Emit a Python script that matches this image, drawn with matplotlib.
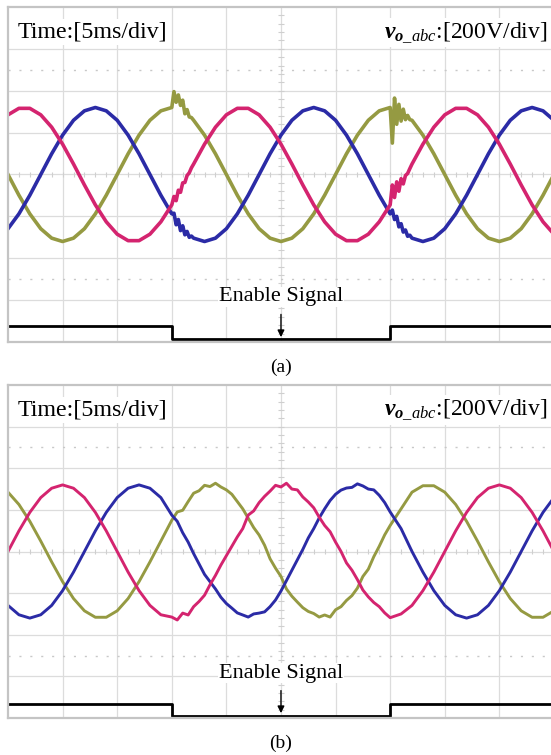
import numpy as np
import matplotlib
matplotlib.use('Agg')
import matplotlib.pyplot as plt

plt.rcParams['font.family'] = 'Liberation Serif'
plt.rcParams['mathtext.fontset'] = 'custom'
plt.rcParams['mathtext.rm'] = 'Liberation Serif'
plt.rcParams['mathtext.it'] = 'Liberation Serif:italic'
plt.rcParams['mathtext.bf'] = 'Liberation Serif:bold:italic'

# (a): time in ms, phase voltages in V, denser samples around the two switching events
t_a = [0, 1, 2, 3, 4, 5, 6, 7, 8, 9, 10, 11, 12, 13, 14,
       15.0, 15.2, 15.4, 15.6, 15.8, 16.0, 16.2, 16.4, 16.6, 16.8, 17.0,
       18, 19, 20, 21, 22, 23, 24, 25, 26, 27, 28, 29, 30, 31, 32, 33, 34,
       35.0, 35.2, 35.4, 35.6, 35.8, 36.0, 36.2, 36.4, 36.6, 36.8, 37.0,
       38, 39, 40, 41, 42, 43, 44, 45, 46, 47, 48, 49, 50]
va_a = [285, 316, 316, 285, 226, 145, 50, -50, -145, -226, -285, -316, -316, -285, -226,
        -145, -105, -125, -75, -85, -40, -38, -5, 8, 32, 50,
        145, 226, 285, 316, 316, 285, 226, 145, 50, -50, -145, -226, -285, -316, -316, -285, -226,
        -145, -50, -110, -35, -80, -20, -45, -5, 5, 28, 50,
        145, 226, 285, 316, 316, 285, 226, 145, 50, -50, -145, -226, -285]
vb_a = [-259, -188, -99, 0, 99, 188, 259, 304, 320, 304, 259, 188, 99, 0, -99,
        -188, -185, -240, -215, -268, -245, -288, -272, -300, -294, -304,
        -320, -304, -259, -188, -99, 0, 99, 188, 259, 304, 320, 304, 259, 188, 99, 0, -99,
        -188, -170, -215, -200, -250, -235, -275, -265, -295, -290, -304,
        -320, -304, -259, -188, -99, 0, 99, 188, 259, 304, 320, 304, 259]
vc_a = [0, -99, -188, -259, -304, -320, -304, -259, -188, -99, 0, 99, 188, 259, 304,
        320, 396, 345, 380, 330, 355, 290, 310, 275, 272, 259,
        188, 99, 0, -99, -188, -259, -304, -320, -304, -259, -188, -99, 0, 99, 188, 259, 304,
        320, 150, 365, 240, 335, 255, 312, 262, 282, 262, 259,
        188, 99, 0, -99, -188, -259, -304, -320, -304, -259, -188, -99, 0]

# (b): 0.5 ms samples while the enable signal is low
t_b = [0, 1, 2, 3, 4, 5, 6, 7, 8, 9, 10, 11, 12, 13, 14,
       15.0, 15.5, 16.0, 16.5, 17.0, 17.5, 18.0, 18.5, 19.0, 19.5,
       20.0, 20.5, 21.0, 21.5, 22.0, 22.5, 23.0, 23.5, 24.0, 24.5,
       25.0, 25.5, 26.0, 26.5, 27.0, 27.5, 28.0, 28.5, 29.0, 29.5,
       30.0, 30.5, 31.0, 31.5, 32.0, 32.5, 33.0, 33.5, 34.0, 34.5, 35.0,
       36, 37, 38, 39, 40, 41, 42, 43, 44, 45, 46, 47, 48, 49, 50]
va_b = [0, 99, 188, 259, 304, 320, 304, 259, 188, 99, 0, -99, -188, -259, -304,
        -315, -329, -296, -305, -265, -240, -210, -160, -115, -65,
        -20, 25, 70, 110, 175, 195, 235, 265, 290, 318,
        310, 328, 300, 296, 262, 238, 210, 165, 125, 95,
        45, 0, -55, -90, -135, -185, -218, -245, -265, -295, -318,
        -300, -259, -188, -99, 0, 99, 188, 259, 304, 320, 304, 259, 188, 99, 0]
vb_b = [-259, -304, -320, -304, -259, -188, -99, 0, 99, 188, 259, 304, 320, 304, 259,
        175, 145, 90, 45, -10, -60, -110, -145, -180, -220,
        -250, -272, -295, -305, -315, -300, -296, -290, -265, -233,
        -190, -140, -90, -40, 10, 65, 110, 161, 205, 245,
        275, 295, 305, 308, 325, 315, 300, 296, 270, 235, 190,
        110, 0, -99, -188, -259, -304, -320, -304, -259, -188, -99, 0, 99, 188, 259]
vc_b = [285, 226, 145, 50, -50, -145, -226, -285, -316, -316, -285, -226, -145, -50, 50,
        150, 190, 198, 240, 280, 292, 318, 312, 328, 310,
        296, 275, 240, 205, 160, 115, 79, 30, -35, -80,
        -120, -180, -215, -243, -270, -288, -298, -315, -305, -315,
        -280, -265, -235, -212, -176, -120, -85, -25, 25, 80, 125,
        205, 285, 316, 316, 285, 226, 145, 50, -50, -145, -226, -285, -316, -316, -285]

# enable signal, drawn near the bottom of the screen
en_t = [0, 15, 15, 35, 35, 50]
en_a = [-725, -725, -787, -787, -725, -725]
en_b = [-733, -733, -790, -790, -733, -733]

c_a = '#d4246f'
c_b = '#2b2ba6'
c_c = '#959a42'
grid_c = '#dcdcdc'


def scope(ax, t, va, vb, vc, en, cap, lw):
    ax.set_xlim(0, 49.73)
    ax.set_ylim(-800, 800)
    ax.set_xticks([])
    ax.set_yticks([])
    for k in range(1, 10):
        ax.axvline(5 * k, color=grid_c, lw=0.9, zorder=0.5)
    for v in range(-600, 601, 200):
        ax.axhline(v, color=grid_c, lw=0.9, zorder=0.5)
    for v in (-500, 500):
        ax.axhline(v, color='#c8c8c8', lw=1.0, ls=(0, (1.5, 6.35)), zorder=0.5)
    # small division marks along the two centre lines
    ax.vlines(np.arange(1, 50), -12, 12, color='#cfcfcf', lw=0.8, zorder=0.5)
    ax.hlines(np.arange(-760, 800, 40), 24.7, 25.3, color='#cfcfcf', lw=0.8, zorder=0.5)
    for s in ('left', 'top', 'bottom'):
        ax.spines[s].set_color('#c4c4c4')
        ax.spines[s].set_linewidth(1.6)
    ax.spines['right'].set_visible(False)

    ax.plot(t, vc, color=c_c, lw=lw, zorder=2)
    ax.plot(t, vb, color=c_b, lw=lw, zorder=2)
    ax.plot(t, va, color=c_a, lw=lw, zorder=2)
    ax.plot(en_t, en, color='black', lw=2.0, zorder=2)

    box = dict(facecolor='white', edgecolor='none', pad=1.5)
    ax.text(0.018, 0.925, 'Time:[5ms/div]', transform=ax.transAxes,
            fontsize=17.3, ha='left', va='center', bbox=box, zorder=3)
    ax.text(0.993, 0.925, r'$\mathbf{v}_{\mathbf{o}\mathit{\_abc}}$:[200V/div]',
            transform=ax.transAxes, fontsize=17, ha='right', va='center',
            bbox=box, zorder=3)
    ax.text(25, -585, 'Enable Signal', fontsize=16, ha='center', va='center',
            bbox=dict(facecolor='white', edgecolor='none', pad=0.5), zorder=3)
    ax.annotate('', xy=(25, -790), xytext=(25, -655),
                arrowprops=dict(arrowstyle='-|>', color='black', lw=1.0,
                                mutation_scale=10), zorder=3)
    ax.text(25, -880, cap, fontsize=14, ha='center', va='top', clip_on=False)


fig = plt.figure(figsize=(5.51, 7.55), dpi=100)
ax1 = fig.add_axes([8 / 551, 1 - 342 / 755, 543 / 551, 335 / 755])
ax2 = fig.add_axes([8 / 551, 1 - 718 / 755, 543 / 551, 333 / 755])
scope(ax1, t_a, va_a, vb_a, vc_a, en_a, '(a)', 2.6)
scope(ax2, t_b, va_b, vb_b, vc_b, en_b, '(b)', 2.1)

fig.savefig('out.png', dpi=100)
